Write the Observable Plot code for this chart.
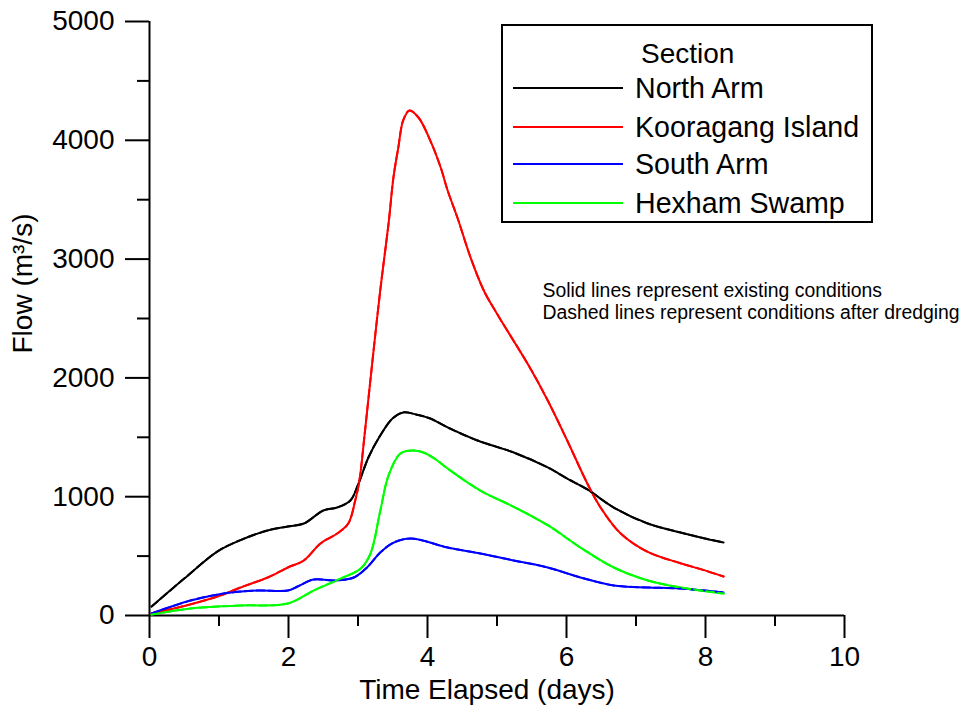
<!DOCTYPE html>
<html>
<head>
<meta charset="utf-8">
<script src="https://cdn.jsdelivr.net/npm/d3@7"></script>
<script src="https://cdn.jsdelivr.net/npm/@observablehq/plot@0.6"></script>
<style>
  html, body { margin: 0; padding: 0; background: #fff; }
  #wrap { position: relative; width: 961px; height: 716px; font-family: "Liberation Sans", Arial, Helvetica, sans-serif; }
  #legend { position: absolute; left: 501px; top: 24px; width: 368px; height: 195px; border: 2px solid #000; background: #fff; }
  #legend .title { position: absolute; left: 138px; top: 28px; font-size: 28px; line-height: 1; transform: translateY(-50%); }
  #legend .row { position: absolute; left: 10px; height: 30px; transform: translateY(-50%); display: flex; align-items: center; }
  #legend .row svg { display: block; }
  #legend .row span { margin-left: 12px; font-size: 28.6px; line-height: 1; }
</style>
</head>
<body>
<div id="wrap"></div>
<script>
// ---- Data (time in days, flow in m3/s) ----
const seriesNames = ["North Arm", "Kooragang Island", "South Arm", "Hexham Swamp"];
const seriesColors = ["#000000", "#ff0000", "#0000ff", "#00ff00"];

const northT = [0.03, 0.5, 0.98, 1.31, 1.70, 1.99, 2.22, 2.5, 2.7, 2.89, 3.0, 3.15, 3.32, 3.5, 3.65, 3.85, 4.04, 4.29, 4.72, 5.24, 5.73, 6.01, 6.30, 6.68, 7.17, 7.64, 7.93, 8.26];
const northQ = [75, 311, 540, 635, 716, 749, 774, 884, 909, 968, 1100, 1330, 1515, 1660, 1709, 1690, 1658, 1583, 1473, 1372, 1246, 1153, 1061, 909, 774, 699, 657, 614];

const kooragangT = [0.03, 0.5, 1.02, 1.31, 1.70, 1.99, 2.22, 2.46, 2.7, 2.86, 2.96, 3.02, 3.1, 3.2, 3.32, 3.44, 3.51, 3.58, 3.65, 3.74, 3.87, 4.04, 4.19, 4.29, 4.43, 4.62, 4.81, 5.0, 5.48, 5.73, 6.01, 6.30, 6.49, 6.78, 7.17, 7.64, 7.93, 8.26];
const kooragangQ = [17, 80, 168, 236, 320, 404, 463, 606, 690, 774, 968, 1136, 1550, 2100, 2736, 3300, 3687, 3939, 4167, 4251, 4192, 3998, 3771, 3577, 3350, 3013, 2736, 2540, 2080, 1810, 1473, 1111, 909, 690, 535, 440, 390, 328];

const southT = [0.03, 0.59, 1.07, 1.55, 1.99, 2.13, 2.36, 2.65, 2.94, 3.13, 3.32, 3.5, 3.76, 4.29, 4.76, 5.24, 5.73, 6.2, 6.68, 7.17, 7.64, 8.26];
const southQ = [17, 126, 185, 210, 210, 244, 303, 295, 320, 404, 530, 610, 648, 572, 522, 463, 404, 320, 253, 236, 227, 194];

const hexhamT = [0.03, 0.59, 1.31, 1.99, 2.36, 2.75, 3.04, 3.18, 3.32, 3.44, 3.61, 3.78, 3.95, 4.14, 4.29, 4.76, 5.24, 5.73, 6.2, 6.68, 7.17, 7.64, 8.26];
const hexhamQ = [8, 59, 84, 101, 210, 311, 396, 522, 880, 1180, 1364, 1389, 1370, 1305, 1237, 1052, 915, 760, 572, 404, 295, 236, 185];

// After dredging: indistinguishable from existing conditions in the reference
const northDredgedQ = northQ;
const kooragangDredgedQ = kooragangQ;
const southDredgedQ = southQ;
const hexhamDredgedQ = hexhamQ;

const xMajorTicks = [0, 2, 4, 6, 8, 10];
const xMinorTicks = [1, 3, 5, 7, 9];
const yMajorTicks = [0, 1000, 2000, 3000, 4000, 5000];
const yMinorTicks = [500, 1500, 2500, 3500, 4500];

const xLabel = "Time Elapsed (days)";
const yLabel = "Flow (m³/s)";
const legendTitle = "Section";
const noteText = "Solid lines represent existing conditions\nDashed lines represent conditions after dredging";

// ---- Build tables ----
function rows(name, T, Q, cond) { return T.map((t, i) => ({series: name, t, q: Q[i], cond})); }
const existing = [
  ...rows(seriesNames[0], northT, northQ, "existing"),
  ...rows(seriesNames[1], kooragangT, kooragangQ, "existing"),
  ...rows(seriesNames[2], southT, southQ, "existing"),
  ...rows(seriesNames[3], hexhamT, hexhamQ, "existing")
];
const dredged = [
  ...rows(seriesNames[0], northT, northDredgedQ, "dredged"),
  ...rows(seriesNames[1], kooragangT, kooragangDredgedQ, "dredged"),
  ...rows(seriesNames[2], southT, southDredgedQ, "dredged"),
  ...rows(seriesNames[3], hexhamT, hexhamDredgedQ, "dredged")
];

const chart = Plot.plot({
  width: 961,
  height: 716,
  marginLeft: 149,
  marginRight: 117,
  marginTop: 21,
  marginBottom: 101,
  style: {fontFamily: "'Liberation Sans', Arial, Helvetica, sans-serif", background: "#fff", color: "#000"},
  x: {domain: [0, 10]},
  y: {domain: [0, 5000]},
  color: {domain: seriesNames, range: seriesColors},
  marks: [
    Plot.axisX({ticks: xMajorTicks, tickSize: 23, tickPadding: 8, fontSize: 28, label: null, strokeWidth: 2, tickFormat: d3.format("d")}),
    Plot.axisX({ticks: xMinorTicks, tickSize: 11, tickFormat: () => "", label: null, strokeWidth: 2}),
    Plot.axisY({ticks: yMajorTicks, tickSize: 24, tickPadding: 11, fontSize: 28, label: null, strokeWidth: 2, tickFormat: d3.format("d")}),
    Plot.axisY({ticks: yMinorTicks, tickSize: 12, tickFormat: () => "", label: null, strokeWidth: 2}),
    Plot.ruleX([0], {strokeWidth: 2}),
    Plot.ruleY([0], {strokeWidth: 2}),
    Plot.line(existing, {x: "t", y: "q", z: "series", stroke: "series", strokeWidth: 2, curve: "catmull-rom"}),
    Plot.line(dredged, {x: "t", y: "q", z: "series", stroke: "series", strokeWidth: 2, strokeDasharray: "8,4", curve: "catmull-rom"}),
    Plot.text([xLabel], {frameAnchor: "bottom", dx: -10, dy: 75, fontSize: 28, lineAnchor: "middle"}),
    Plot.text([yLabel], {frameAnchor: "left", rotate: -90, dx: -126, dy: 35, fontSize: 28, lineAnchor: "middle"}),
    Plot.text([noteText], {frameAnchor: "top-left", dx: 393, dy: 260, fontSize: 19.4, textAnchor: "start", lineAnchor: "top", lineHeight: 1.14})
  ]
});

const wrap = document.getElementById("wrap");
wrap.appendChild(chart);

// ---- Legend ----
const legend = document.createElement("div");
legend.id = "legend";
const title = document.createElement("div");
title.className = "title";
title.textContent = legendTitle;
legend.appendChild(title);
const rowY = [62, 101, 138, 177];
seriesNames.forEach((name, i) => {
  const row = document.createElement("div");
  row.className = "row";
  row.style.top = rowY[i] + "px";
  const svg = d3.create("svg").attr("width", 110).attr("height", 4);
  svg.append("line").attr("x1", 0).attr("x2", 110).attr("y1", 2).attr("y2", 2)
    .attr("stroke", seriesColors[i]).attr("stroke-width", 2);
  row.appendChild(svg.node());
  const span = document.createElement("span");
  span.textContent = name;
  row.appendChild(span);
  legend.appendChild(row);
});
wrap.appendChild(legend);
</script>
</body>
</html>
